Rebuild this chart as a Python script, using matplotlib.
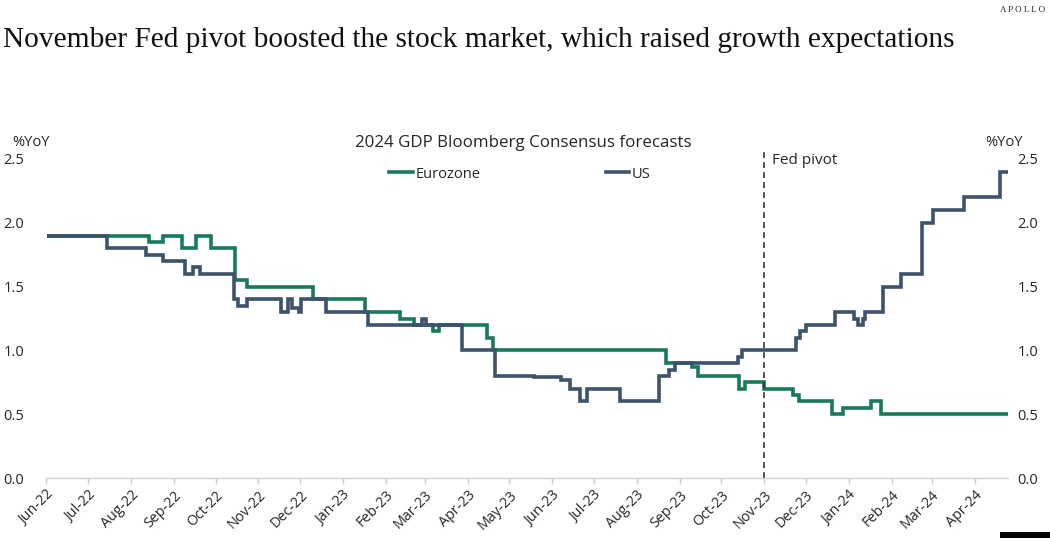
import matplotlib
matplotlib.use("Agg")
import matplotlib.pyplot as plt
import matplotlib.dates as mdates
import pandas as pd
from matplotlib.patches import Rectangle

# 2024 GDP consensus forecasts (%YoY): dates where the forecast changes, and the new value
us_dates = [
    "2022-06-01", "2022-07-15", "2022-08-12", "2022-08-24", "2022-09-09", "2022-09-15",
    "2022-09-20", "2022-10-14", "2022-10-17", "2022-10-24", "2022-11-17", "2022-11-22",
    "2022-11-25", "2022-11-30", "2022-12-02", "2022-12-20", "2023-01-19", "2023-02-27",
    "2023-03-02", "2023-03-28", "2023-04-21", "2023-05-19", "2023-06-07", "2023-06-14",
    "2023-06-21", "2023-06-26", "2023-07-20", "2023-08-17", "2023-08-24", "2023-08-29",
    "2023-10-13", "2023-10-16", "2023-11-24", "2023-11-27", "2023-12-01", "2023-12-22",
    "2024-01-05", "2024-01-08", "2024-01-11", "2024-01-13", "2024-01-26", "2024-02-08",
    "2024-02-23", "2024-03-02", "2024-03-24", "2024-04-19", "2024-04-25",
]
us_values = [
    1.9, 1.8, 1.75, 1.7, 1.6, 1.65,
    1.6, 1.4, 1.35, 1.4, 1.3, 1.4,
    1.33, 1.3, 1.4, 1.3, 1.2, 1.25,
    1.2, 1.0, 0.8, 0.79, 0.77, 0.7,
    0.6, 0.7, 0.6, 0.8, 0.85, 0.9,
    0.95, 1.0, 1.1, 1.15, 1.2, 1.3,
    1.25, 1.2, 1.25, 1.3, 1.5, 1.6,
    2.0, 2.1, 2.2, 2.4, 2.4,
]

ez_dates = [
    "2022-06-01", "2022-08-14", "2022-08-24", "2022-09-07", "2022-09-17", "2022-09-28",
    "2022-10-15", "2022-10-24", "2022-12-10", "2023-01-17", "2023-02-11", "2023-02-21",
    "2023-03-07", "2023-03-11", "2023-04-15", "2023-04-19", "2023-08-22", "2023-09-10",
    "2023-09-14", "2023-10-14", "2023-10-18", "2023-11-01", "2023-11-22", "2023-11-26",
    "2023-12-20", "2023-12-28", "2024-01-17", "2024-01-24", "2024-04-25",
]
ez_values = [
    1.9, 1.85, 1.9, 1.8, 1.9, 1.8,
    1.55, 1.5, 1.4, 1.3, 1.25, 1.2,
    1.15, 1.2, 1.1, 1.0, 0.9, 0.87,
    0.8, 0.7, 0.75, 0.7, 0.65, 0.6,
    0.5, 0.55, 0.6, 0.5, 0.5,
]

y_ticks = [0.0, 0.5, 1.0, 1.5, 2.0, 2.5]
pivot_date = "2023-11-01"

EZ_COLOR = "#187a5c"
US_COLOR = "#3d526b"
TEXT_COLOR = "#262626"
UI_FONT = "Open Sans"

W, H = 1050, 538
fig = plt.figure(figsize=(W / 100, H / 100), dpi=100)
fig.patch.set_facecolor("white")

x0, x1, y0, y1 = 46.5, 1008, 478, 159
ax = fig.add_axes([x0 / W, 1 - y0 / H, (x1 - x0) / W, (y0 - y1) / H])

ax.plot(pd.to_datetime(ez_dates), ez_values, drawstyle="steps-post",
        color=EZ_COLOR, lw=2.6, label="Eurozone", solid_joinstyle="miter")
ax.plot(pd.to_datetime(us_dates), us_values, drawstyle="steps-post",
        color=US_COLOR, lw=2.6, label="US", solid_joinstyle="miter")

ax.set_xlim(pd.Timestamp("2022-06-01"), pd.Timestamp("2024-04-25"))
ax.set_ylim(0, 2.5)
ax.set_yticks(y_ticks)
ax.set_yticklabels([f"{v:.1f}" for v in y_ticks], family=UI_FONT, fontsize=10.5, color=TEXT_COLOR)
ax.tick_params(axis="y", length=0, pad=16)

ax.xaxis.set_major_locator(mdates.MonthLocator())
ax.xaxis.set_major_formatter(mdates.DateFormatter("%b-%y"))
ax.tick_params(axis="x", direction="out", length=4, width=1, color="#d0d0d0", pad=3)
for lbl in ax.get_xticklabels():
    lbl.set_rotation(45)
    lbl.set_ha("right")
    lbl.set_rotation_mode("anchor")
    lbl.set_family(UI_FONT)
    lbl.set_fontsize(10.3)
    lbl.set_color(TEXT_COLOR)

for side in ("top", "left", "right"):
    ax.spines[side].set_visible(False)
ax.spines["bottom"].set_color("#d0d0d0")
ax.spines["bottom"].set_linewidth(1)

# right-hand value axis
axr = ax.twinx()
axr.set_ylim(0, 2.5)
axr.set_yticks(y_ticks)
axr.set_yticklabels([f"{v:.1f}" for v in y_ticks], family=UI_FONT, fontsize=10.5, color=TEXT_COLOR)
axr.tick_params(axis="y", length=0, pad=7)
for side in ("top", "left", "right", "bottom"):
    axr.spines[side].set_visible(False)

# Fed pivot marker
ax.axvline(pd.Timestamp(pivot_date), ymin=0, ymax=(y0 - 148) / (y0 - y1), clip_on=False,
           color="#333333", lw=1.2, ls=(0, (3.5, 2.5)))
fig.text(772 / W, 1 - 160 / H, "Fed pivot", family=UI_FONT, fontsize=11,
         color=TEXT_COLOR, va="center", ha="left")

# axis units and chart heading
fig.text(12 / W, 1 - 143 / H, "%YoY", family=UI_FONT, fontsize=10.5, color=TEXT_COLOR,
         va="center", ha="left")
fig.text(985 / W, 1 - 143 / H, "%YoY", family=UI_FONT, fontsize=10.5, color=TEXT_COLOR,
         va="center", ha="left")
fig.text(523 / W, 1 - 143 / H, "2024 GDP Bloomberg Consensus forecasts", family=UI_FONT,
         fontsize=12.2, color=TEXT_COLOR, va="center", ha="center")

leg = fig.legend(loc="center", bbox_to_anchor=(520 / W, 1 - 174 / H), ncol=2, frameon=False,
                 handlelength=1.6, handletextpad=0.2, columnspacing=8.6,
                 prop={"family": UI_FONT, "size": 10.5})
for t in leg.get_texts():
    t.set_color(TEXT_COLOR)

# page title and branding
fig.text(3 / W, 1 - 40 / H,
         "November Fed pivot boosted the stock market, which raised growth expectations",
         family="Liberation Serif", fontsize=21.2, color="#111111", va="center", ha="left")
fig.text(1045 / W, 1 - 10 / H, "A P O L L O", family="Liberation Serif", fontsize=6.5,
         color="#222222", va="center", ha="right")

fig.add_artist(Rectangle((1000 / W, 0), 50 / W, 6 / H, transform=fig.transFigure,
                         color="black", lw=0))

fig.savefig("out.png", dpi=100, facecolor="white")
